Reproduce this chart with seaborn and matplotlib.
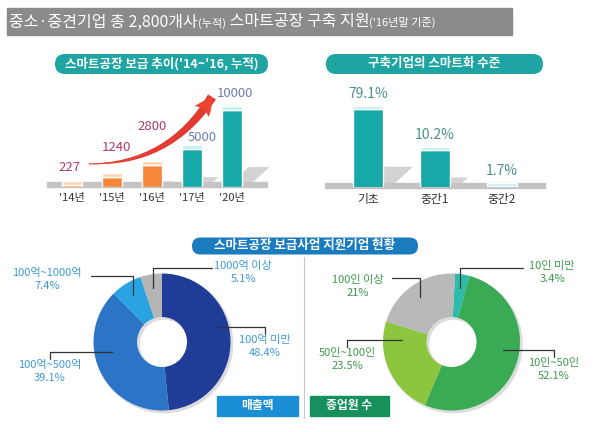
import numpy as np
import pandas as pd
import matplotlib.pyplot as plt
import seaborn as sns
from matplotlib.patches import FancyBboxPatch, Rectangle, Polygon, Wedge

# ---- data ----
years = ["'14년", "'15년", "'16년", "'17년", "'20년"]
factories = [227, 1240, 2800, 5000, 10000]
phase = ["실적", "실적", "실적", "목표", "목표"]

levels = ["기초", "중간1", "중간2"]
level_share = [79.1, 10.2, 1.7]

sales_labels = ["100억 미만", "100억~500억", "100억~1000억", "1000억 이상"]
sales_share = [48.4, 39.1, 7.4, 5.1]

staff_labels = ["10인 미만", "10인~50인", "50인~100인", "100인 이상"]
staff_share = [3.4, 52.1, 23.5, 21]

sns.set_style("white")
plt.rcParams['font.family'] = ['Noto Sans CJK KR', 'DejaVu Sans']

W, H = 593, 432
fig = plt.figure(figsize=(W / 100, H / 100), dpi=100)


def px_axes(l, t, w, h):
    ax = fig.add_axes([l / W, 1 - (t + h) / H, w / W, h / H])
    ax.set_facecolor('none')
    return ax


bg = px_axes(0, 0, W, H)
bg.set_xlim(0, W)
bg.set_ylim(H, 0)
bg.axis('off')

# title bar
bg.add_patch(Rectangle((7, 8), 505, 27, color='#8b8b8b'))
t1 = bg.text(9, 22, "중소·중견기업 총 2,800개사", color='white', fontsize=11.5, va='center')
t2 = bg.annotate("(누적)", xy=(1, 0.1), xycoords=t1, va='bottom', color='white', fontsize=8)
t3 = bg.annotate(" 스마트공장 구축 지원", xy=(1, -0.1), xycoords=t2, va='bottom',
                 color='white', fontsize=11.5)
bg.annotate("('16년말 기준)", xy=(1, 0.1), xycoords=t3, va='bottom', color='white', fontsize=8)


def pill(cx, cy, w, h, color, text):
    bg.add_patch(FancyBboxPatch((cx - w / 2, cy - h / 2), w, h,
                                boxstyle=f"round,pad=0,rounding_size={h / 2}", fc=color, ec='none'))
    bg.text(cx, cy, text, color='white', fontsize=9, fontweight='bold', ha='center', va='center')


pill(161.5, 64, 213, 20, '#1fa4a4', "스마트공장 보급 추이('14~'16, 누적)")
pill(434.5, 64, 217, 20, '#1fa4a4', "구축기업의 스마트화 수준")
pill(305, 246, 226, 17, '#1b7bbf', "스마트공장 보급사업 지원기업 현황")


def cast_shadows(bars, floor_y):
    inv = bg.transData.inverted()
    for b in bars:
        ext = b.get_window_extent()
        (L, B), (R, T) = inv.transform([[ext.x0, ext.y0], [ext.x1, ext.y1]])
        B = min(B, floor_y)
        w = R - L
        h = 0.26 * (B - T)
        d = 1.1 * h
        s = 0.25 * w
        bg.add_patch(Polygon([(L + s, B), (R + s, B), (R + s + d, B - h), (L + s + d, B - h)],
                             closed=True, color='#d3d3d3', lw=0))


# ---- top-left: adoption trend ----
ax1 = px_axes(32, 80, 240, 107)
df1 = pd.DataFrame({'year': years, 'count': factories, 'phase': phase})
sns.barplot(data=df1, x='year', y='count', hue='phase', dodge=False, legend=False,
            palette={'실적': '#f4873a', '목표': '#17a9a7'}, saturation=1, width=0.52, ax=ax1)
ax1.set_xlim(-1, 5)
ax1.set_ylim(0, 13900)
main_bars = list(ax1.patches)
cap = 520
cap_colors = ['#fcd3b2' if p == '실적' else '#c2eeee' for p in phase]
ax1.bar(range(len(years)), cap, bottom=factories, width=0.52, color=cap_colors)
num_colors = ['#b03a6c' if p == '실적' else '#6f7db3' for p in phase]
offsets = [(-2, 14), (4, 26), (0, 35), (10, 7), (3, 13)]
for i, (v, c, (dx, dy)) in enumerate(zip(factories, num_colors, offsets)):
    ax1.annotate(f"{v}", xy=(i, v + cap), xytext=(dx, dy), textcoords='offset pixels',
                 ha='center', va='center', color=c, fontsize=9.5)

# growth arrow: tapered body + head
arrow_from, arrow_to = (0.42, 3000), (3.5, 11700)
ax1.annotate("", xy=arrow_from, xytext=arrow_to,
             arrowprops=dict(arrowstyle="wedge,tail_width=0.42,shrink_factor=0.55",
                             connectionstyle="arc3,rad=-0.28", color='#e03a32', lw=0,
                             mutation_scale=16, shrinkA=0, shrinkB=0))
ax1.annotate("", xy=arrow_to, xytext=arrow_from,
             arrowprops=dict(arrowstyle="fancy,head_length=0.8,head_width=0.8,tail_width=0.05",
                             connectionstyle="arc3,rad=0.28", color='#ec4530', lw=0,
                             mutation_scale=16, shrinkA=0, shrinkB=0))
ax1.set_xlabel('')
ax1.set_ylabel('')
ax1.set_yticks([])
sns.despine(ax=ax1, left=True, bottom=True)
ax1.tick_params(axis='x', length=0, pad=4, labelsize=8, colors='#333333')
cast_shadows(main_bars, 187)
bg.add_patch(Rectangle((47, 182), 220, 5, color='#c4c4c4'))

# ---- top-right: smartness level ----
ax2 = px_axes(301, 80, 268, 107)
ax2.set_yscale('log')
sns.barplot(x=levels, y=level_share, color='#17a9a7', saturation=1, width=0.45, ax=ax2)
ax2.set_xlim(-1, 3)
ax2.set_ylim(1.606, 336)
bars2 = list(ax2.patches)
ax2.bar(range(len(levels)), [v * 0.17 for v in level_share], bottom=level_share,
        width=0.45, color='#c2eeee')
for i, v in enumerate(level_share):
    ax2.annotate(f"{v}%", xy=(i, v * 1.17), xytext=(0, 12), textcoords='offset pixels',
                 ha='center', va='center', color='#4b8f8f', fontsize=10)
ax2.set_yticks([])
ax2.set_yticks([], minor=True)
sns.despine(ax=ax2, left=True, bottom=True)
ax2.tick_params(axis='x', length=0, pad=4, labelsize=8.5, colors='#333333')
cast_shadows(bars2, 187)
bg.add_patch(Rectangle((325, 183), 220, 5, color='#c4c4c4'))

# ---- donuts ----
R = 68.5
HOLE = 25


def donut(cx, cy, shares, colors, start):
    ax = px_axes(cx - R, cy - R, 2 * R, 2 * R)
    ax.add_patch(Wedge((0.03, -0.03), 1.0, 0, 360, width=1 - HOLE / R,
                       color='#dcdcdc', zorder=0, clip_on=False))
    ax.pie(shares, colors=colors, startangle=start, counterclock=False,
           wedgeprops=dict(width=1 - HOLE / R, edgecolor='none'))
    ax.set_xlim(-1, 1)
    ax.set_ylim(-1, 1)
    pts = []
    a = start
    for s in shares:
        span = 360 * s / sum(shares)
        mid = np.deg2rad(a - span / 2)
        pts.append((cx + 0.8 * R * np.cos(mid), cy - 0.8 * R * np.sin(mid)))
        a -= span
    return pts


sales_colors = ['#1f3d97', '#2b74c6', '#29a3e2', '#b5b5b5']
staff_colors = ['#2dbcaa', '#3aab55', '#8cc63f', '#b9b9b9']
sales_pts = donut(162, 342, sales_share, sales_colors, 90)
staff_pts = donut(451.5, 342, staff_share, staff_colors, 87)

fg = px_axes(0, 0, W, H)
fg.set_xlim(0, W)
fg.set_ylim(H, 0)
fg.axis('off')

# label layout: (style, text x, glyph top y, line start x, line y)
sales_layout = [('bottom', 265, 337, None, None),
                ('bottom', 50, 362, None, None),
                ('top', 47, 270, 91, 276),
                ('top', 243, 263, 212, 268)]
staff_layout = [('top', 552, 263, 523, 268),
                ('bottom', 554, 360, None, None),
                ('bottom', 347, 350, None, None),
                ('top', 358, 277, 392, 278)]


def callouts(labels, shares, pts, layout, color):
    for lab, s, (axp, ayp), (style, tx, ty, lx, ly) in zip(labels, shares, pts, layout):
        fg.text(tx, ty - 2, f"{lab}\n{s:g}%", ha='center', va='top', color=color,
                fontsize=8, linespacing=1.35)
        if style == 'top':
            xs, ys = [lx, axp, axp], [ly, ly, ayp]
        else:
            ay = min(ayp, ty - 10)
            xs, ys = [axp, tx, tx], [ay, ay, ty - 3]
        fg.plot(xs, ys, color='#333333', lw=0.9)


callouts(sales_labels, sales_share, sales_pts, sales_layout, '#3d9ad6')
callouts(staff_labels, staff_share, staff_pts, staff_layout, '#3c9a4c')

# divider and tags
bg.plot([304, 304], [257, 418], color='#c8c8c8', lw=0.8)
bg.add_patch(Rectangle((217, 396), 81, 20, color='#1b8fd6'))
bg.text(257.5, 406, "매출액", color='white', fontsize=8.5, fontweight='bold', ha='center', va='center')
bg.add_patch(Rectangle((310, 396), 79, 20, color='#16915c'))
bg.text(349.5, 406, "종업원 수", color='white', fontsize=8.5, fontweight='bold', ha='center', va='center')

fig.savefig('out.png', dpi=100)
